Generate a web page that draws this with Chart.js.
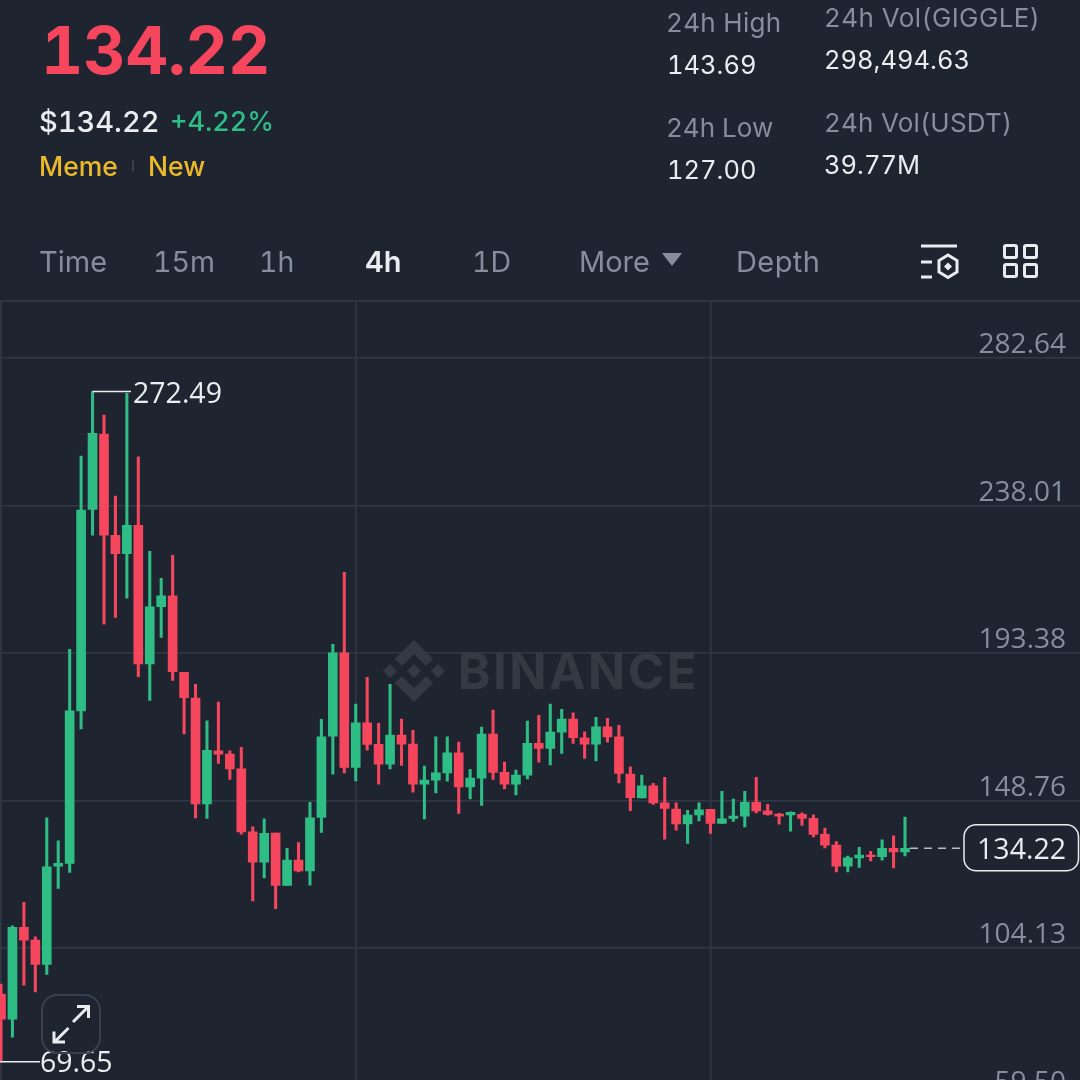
<!DOCTYPE html>
<html><head><meta charset="utf-8">
<script src="https://cdn.jsdelivr.net/npm/chart.js@4/dist/chart.umd.min.js"></script>
<style>
html,body{margin:0;padding:0;background:#1f2530;width:1080px;height:1080px;overflow:hidden}
#wrap{position:relative;width:1080px;height:1080px;overflow:hidden;background:#1f2530;font-family:Inter,sans-serif;font-feature-settings:"tnum" 1}
canvas{position:absolute;left:0;top:0}
.t{position:absolute;white-space:nowrap;line-height:40px;height:40px}
.g{color:#848e9c}.w{color:#eaecef}.y{color:#ecb92b}
#rule{position:absolute;left:0;top:300px;width:1080px;height:2px;background:#2f353f}
</style></head><body>
<div id="wrap">
<canvas id="c" width="1080" height="1083"></canvas>
<div id="rule"></div>
<div class="t" style="left:41px;top:31px;height:40px;line-height:40px;font-size:65.5px;font-weight:650;color:#f6465d">134.22</div>
<div class="t w" style="left:39px;top:102px;font-size:29px;font-weight:500">$134.22</div>
<div class="t" style="left:170px;top:102px;font-size:27px;font-weight:500;color:#2ebd85">+4.22%</div>
<div class="t y" style="left:39px;top:146px;font-size:26.5px;font-weight:500">Meme</div>
<div style="position:absolute;left:132px;top:160px;width:2px;height:11px;background:#3a404a"></div>
<div class="t y" style="left:148px;top:146px;font-size:26.5px;font-weight:500">New</div>
<div class="t g" style="left:666px;top:3px;font-size:26px;letter-spacing:.3px">24h High</div>
<div class="t w" style="left:667px;top:45px;font-size:25.5px">143.69</div>
<div class="t g" style="left:666px;top:108px;font-size:26px">24h Low</div>
<div class="t w" style="left:667px;top:150px;font-size:25.5px">127.00</div>
<div class="t g" style="left:824px;top:-2px;font-size:26px;letter-spacing:.4px">24h Vol(GIGGLE)</div>
<div class="t w" style="left:824px;top:40px;font-size:25.5px">298,494.63</div>
<div class="t g" style="left:824px;top:103px;font-size:26px;letter-spacing:.2px">24h Vol(USDT)</div>
<div class="t w" style="left:824px;top:145px;font-size:25.5px">39.77M</div>
<div class="t g" style="left:39px;top:242px;font-size:29px">Time</div>
<div class="t g" style="left:153px;top:242px;font-size:28.5px">15m</div>
<div class="t g" style="left:259px;top:242px;font-size:28.5px">1h</div>
<div class="t w" style="left:365px;top:242px;font-size:29px;font-weight:600">4h</div>
<div class="t g" style="left:472px;top:242px;font-size:28.5px">1D</div>
<div class="t g" style="left:579px;top:242px;font-size:29px">More</div>
<svg style="position:absolute;left:662px;top:253px" width="21" height="14"><path d="M0 0H20L10 13Z" fill="#848e9c"/></svg>
<div class="t g" style="left:736px;top:242px;font-size:29px;letter-spacing:.4px">Depth</div>
<svg style="position:absolute;left:920px;top:243px" width="40" height="38" fill="none" stroke="#eaecef" stroke-width="3">
<path d="M1 3H37M1 19H12M1 34H12"/><path d="M28 12L37 17.5V29L28 34.5L19 29V17.5Z"/><path d="M28 19.5L32 23.5L28 27.5L24 23.5Z" fill="#eaecef" stroke="none"/></svg>
<svg style="position:absolute;left:1002px;top:243px" width="38" height="38" fill="none" stroke="#eaecef" stroke-width="3">
<rect x="2.5" y="2.5" width="12" height="12" rx="1.5"/><rect x="22.5" y="2.5" width="12" height="12" rx="1.5"/><rect x="2.5" y="21.5" width="12" height="12" rx="1.5"/><rect x="22.5" y="21.5" width="12" height="12" rx="1.5"/></svg>
<svg style="position:absolute;left:41px;top:994px" width="60" height="60" fill="none">
<rect x="1" y="1" width="58" height="58" rx="15" stroke="#3a404b" stroke-width="2"/>
<path d="M32 28L47 13M36 12.5H47.5V24M27.5 34L13 48.5M13 37.5V48H24" stroke="#eaecef" stroke-width="3"/></svg>
</div>
<script>
const tickValues = [282.64, 238.01, 193.38, 148.76, 104.13, 59.50];
const opens = [90.08,82.50,110.27,106.43,99.06,128.83,129.65,175.85,236.83,259.63,228.96,223.39,231.99,190.08,207.34,210.67,187.48,179.70,147.69,163.74,162.74,158.29,139.21,130.03,138.82,122.99,130.65,127.41,143.57,168.19,193.42,158.71,172.22,165.68,159.71,168.50,165.77,153.66,154.87,157.08,163.14,152.84,155.47,168.80,157.20,153.66,156.39,165.98,164.47,169.41,173.34,167.68,165.77,171.01,167.98,156.68,149.51,153.14,147.99,146.09,141.64,144.36,146.00,141.76,143.27,143.97,148.11,145.57,144.57,144.36,144.48,143.27,138.42,135.18,128.83,131.35,132.17,131.66,134.19,133.16];
const closes = [82.50,110.27,106.43,99.06,128.62,129.65,175.85,236.62,259.84,229.05,223.39,231.99,190.08,207.34,210.67,187.66,179.79,147.69,163.86,162.74,158.29,139.21,130.03,138.73,122.99,130.65,127.41,143.45,167.98,193.42,158.71,172.22,165.68,159.71,168.50,165.77,153.66,154.87,157.08,163.14,152.84,155.47,168.80,157.20,153.66,156.39,165.98,164.47,169.41,173.34,167.68,165.77,171.01,167.98,156.90,149.57,153.14,147.99,146.30,141.64,144.27,145.88,141.76,143.15,143.97,148.11,145.57,144.48,143.97,145.09,143.27,138.42,135.18,128.83,131.35,132.17,131.66,134.19,133.16,134.22];
const highs = [93.10,110.75,117.84,107.43,143.45,136.49,194.44,252.97,272.49,265.39,240.86,271.95,252.76,224.11,215.94,222.90,187.48,183.84,172.83,178.48,163.74,164.77,140.72,143.15,138.82,134.19,135.99,148.11,173.24,195.96,217.76,177.87,185.96,172.04,183.84,173.34,169.92,159.11,167.98,167.98,166.38,158.11,170.92,176.06,160.32,157.91,172.73,174.46,177.87,176.28,175.25,169.49,173.85,173.55,171.43,158.90,156.39,153.87,155.69,147.99,145.69,147.99,146.00,151.45,149.11,151.45,155.69,147.51,144.78,145.27,145.00,144.36,140.33,136.30,131.86,134.49,133.28,136.79,137.99,143.69];
const lows = [69.65,77.05,92.79,90.78,96.04,122.08,126.93,170.40,229.05,202.10,204.13,209.98,186.15,178.99,198.07,185.06,168.89,143.45,143.27,159.92,155.08,138.51,118.33,125.29,115.98,122.99,127.11,123.08,139.03,156.68,157.08,154.66,163.95,153.66,158.29,159.32,151.23,143.15,151.02,154.57,144.78,149.21,147.21,155.08,152.24,150.42,155.26,160.32,159.50,162.95,165.98,161.44,160.71,166.38,154.05,145.64,149.51,147.51,136.99,139.73,135.71,142.55,138.74,141.76,142.36,140.73,144.97,144.27,141.55,139.43,141.15,137.70,134.37,127.11,127.11,128.44,130.44,130.65,128.32,131.95];
const maxLabel = "272.49", minLabel = "69.65", lastLabel = "134.22", watermark = "BINANCE";
const UP = "#2ebd85", DOWN = "#f6465d";
const NUM_FONT = "Open Sans, sans-serif";

const idx = opens.map((_, i) => i);
const colors = idx.map(i => closes[i] >= opens[i] ? UP : DOWN);
const LOGO = new Path2D("M38.73 53.2l24.59-24.58 24.6 24.6 14.3-14.31L63.32 0 24.43 38.9zM0 63.31l14.3-14.31 14.31 14.31-14.31 14.3zM38.73 73.41L63.32 98l24.6-24.6 14.31 14.29-38.9 38.91-38.91-38.88-.02-.02zM98 63.31l14.3-14.31 14.31 14.31-14.31 14.3zM77.83 63.3L63.32 48.78 52.59 59.51l-1.24 1.23-2.54 2.54 14.51 14.5 14.51-14.47z");

const overlay = {
  id: "overlay",
  beforeDatasetsDraw(chart) {
    const c = chart.ctx;
    c.save();
    c.translate(383, 640);
    c.scale(62 / 126.61, 62 / 126.61);
    c.fillStyle = "#343a44";
    c.fill(LOGO);
    c.restore();
    c.save();
    c.fillStyle = "#343a44";
    c.font = "700 49px Inter, sans-serif";
    c.textBaseline = "middle";
    c.textAlign = "left";
    c.letterSpacing = "2.5px";
    c.fillText(watermark, 458, 674);
    c.restore();
  },
  afterDatasetsDraw(chart) {
    const c = chart.ctx, x = chart.scales.x, y = chart.scales.y;
    const iHi = highs.indexOf(Math.max(...highs));
    const iLo = lows.indexOf(Math.min(...lows));
    const iLast = closes.length - 1;
    c.save();
    c.font = "28.5px " + NUM_FONT;
    c.textBaseline = "middle";
    c.textAlign = "left";
    c.fillStyle = "#eaecef";
    c.strokeStyle = "#eaecef";
    c.lineWidth = 1.5;
    const yh = y.getPixelForValue(highs[iHi]);
    c.beginPath(); c.moveTo(x.getPixelForValue(iHi), yh); c.lineTo(131, yh); c.stroke();
    c.fillText(maxLabel, 133, yh + 3);
    const yl = y.getPixelForValue(lows[iLo]);
    c.beginPath(); c.moveTo(0, yl); c.lineTo(40, yl); c.stroke();
    c.fillText(minLabel, 40, yl + 2);
    const yc = y.getPixelForValue(closes[iLast]);
    c.strokeStyle = "#b7bdc6";
    c.setLineDash([8, 6]);
    c.beginPath(); c.moveTo(x.getPixelForValue(iLast) + 5, yc); c.lineTo(962, yc); c.stroke();
    c.setLineDash([]);
    c.strokeStyle = "#eaecef";
    c.beginPath(); c.roundRect(964, yc - 23.5, 114.5, 46, 12); c.fillStyle = "#1f2530"; c.fill(); c.stroke();
    c.fillStyle = "#eaecef";
    c.textAlign = "right";
    c.fillText(lastLabel, 1066, yc + 2.5);
    c.restore();
  }
};

new Chart(document.getElementById("c"), {
  type: "bar",
  data: { datasets: [
    { label: "wick", data: idx.map(i => ({ x: i, y: [lows[i], highs[i]] })), backgroundColor: colors, barThickness: 2.4, grouped: false },
    { label: "body", data: idx.map(i => ({ x: i, y: [opens[i], closes[i]] })), backgroundColor: colors, barThickness: 9, grouped: false }
  ]},
  plugins: [overlay],
  options: {
    responsive: false, animation: false, devicePixelRatio: 1,
    layout: { autoPadding: false, padding: { top: 302, bottom: 0, left: 0, right: 0 } },
    plugins: { legend: { display: false }, tooltip: { enabled: false }, title: { display: false } },
    scales: {
      x: {
        type: "linear", offset: false, min: -0.0874, max: 94.294, display: true,
        afterBuildTicks: s => { s.ticks = [0, 31, 62].map(v => ({ value: v })); },
        afterFit: s => { s.height = 0; },
        grid: { offset: false, color: "#333944", lineWidth: 1.5, drawTicks: false },
        border: { display: false },
        ticks: { display: false, padding: 0 }
      },
      y: {
        position: "right", min: 64.03, max: 299.6,
        afterBuildTicks: s => { s.ticks = tickValues.map(v => ({ value: v })); },
        afterFit: s => { s.width = 0; },
        grid: { color: "#333944", lineWidth: 1.5, drawTicks: false },
        border: { display: false },
        ticks: { mirror: true, padding: -14, labelOffset: -12.5, color: "#848e9c", font: { family: NUM_FONT, size: 28 }, callback: v => Number(v).toFixed(2) }
      }
    }
  }
});
</script>
</body></html>
